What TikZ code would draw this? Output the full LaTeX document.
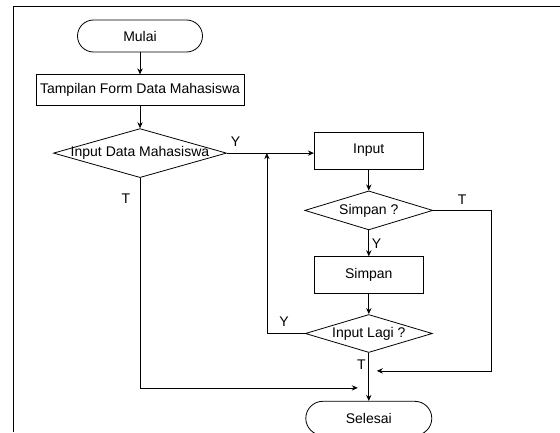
\documentclass[tikz,border=0pt]{standalone}
\usepackage{fontspec}
\setmainfont{Liberation Sans}
\usetikzlibrary{positioning,arrows.meta,calc,shapes.geometric}

% text that may run past the edges of a decision box
\newcommand{\dlm}[1]{\makebox[0pt]{#1}}

\begin{document}
\begin{tikzpicture}[
  font=\fontsize{10.5}{12.6}\selectfont,
  line width=0.6pt,
  term/.style      = {draw, rounded corners=12pt, inner sep=0pt,
                      minimum width=93.75pt, minimum height=24pt},
  proses/.style    = {draw, inner sep=0pt,
                      minimum width=81.75pt, minimum height=27.75pt},
  keputusan/.style = {draw, diamond, inner sep=0pt,
                      minimum width=96pt, minimum height=29.25pt},
  ar/.style        = {-{Stealth[length=4.5pt,width=4pt]}},
  lbl/.style       = {inner sep=2pt}
]
\useasboundingbox (-105pt,27pt) rectangle (315pt,-297pt);

% ---- page frame -----------------------------------------------------------
\draw (-95.25pt,-297pt) -- (-95.25pt,22.5pt) -- (315pt,22.5pt);

% ---- left column ----------------------------------------------------------
\node[term] (mulai) {Mulai};
\node[proses, below=16.5pt of mulai,
      minimum width=156pt, minimum height=23.25pt] (form)
  {Tampilan Form Data Mahasiswa};
\node[keputusan, below=16.5pt of form,
      minimum width=129.75pt, minimum height=36.75pt] (cek)
  {\dlm{Input Data Mahasiswa}};

\draw[ar] (mulai) -- (form);
\draw[ar] (form) -- (cek);

% ---- input loop -----------------------------------------------------------
\node[proses, right=65.25pt of cek, yshift=1.875pt] (input) {Input};
\node[keputusan, below=15.75pt of input] (tanya) {\dlm{Simpan ?}};
\node[proses, below=19.5pt of tanya] (simpan) {Simpan};
\node[keputusan, below=15pt of simpan,
      minimum width=95.25pt, minimum height=28.5pt] (lagi) {\dlm{Input Lagi ?}};
\node[term, below=36pt of lagi, rounded corners=12.75pt,
      minimum width=94.5pt, minimum height=25.5pt] (selesai) {Selesai};

\draw[ar] (cek.east) -- node[lbl, above=3pt, pos=0.1]{Y} (cek.east -| input.west);
\draw[ar] (input) -- (tanya);
\draw[ar] (tanya) -- node[lbl, right]{Y} (simpan);
\draw[ar] (simpan) -- (lagi);

\coordinate (balik) at ($(lagi.west)+(-28.5pt,0)$);
\draw[ar] (lagi.west) -- node[lbl, above=3pt, pos=0.55]{Y} (balik)
          -- (balik |- cek.east);

% ---- the T branches meet above Selesai ------------------------------------
\coordinate (kanan) at ($(tanya.east)+(43.5pt,0)$);
\coordinate (masuk1) at ($(lagi.south)+(6pt,-13.5pt)$);
\draw[ar] (tanya.east) -- node[lbl, above=2pt]{T} (kanan) |- (masuk1);

\draw[ar] (lagi) -- node[lbl, left, pos=0.25]{T} (selesai);

\coordinate (masuk2) at ($(lagi.south)+(-8.25pt,-26.25pt)$);
\draw[ar] (cek.south) -- node[lbl, left=5pt, pos=0.1]{T} (cek.south |- masuk2)
          -- (masuk2);

\end{tikzpicture}
\end{document}
